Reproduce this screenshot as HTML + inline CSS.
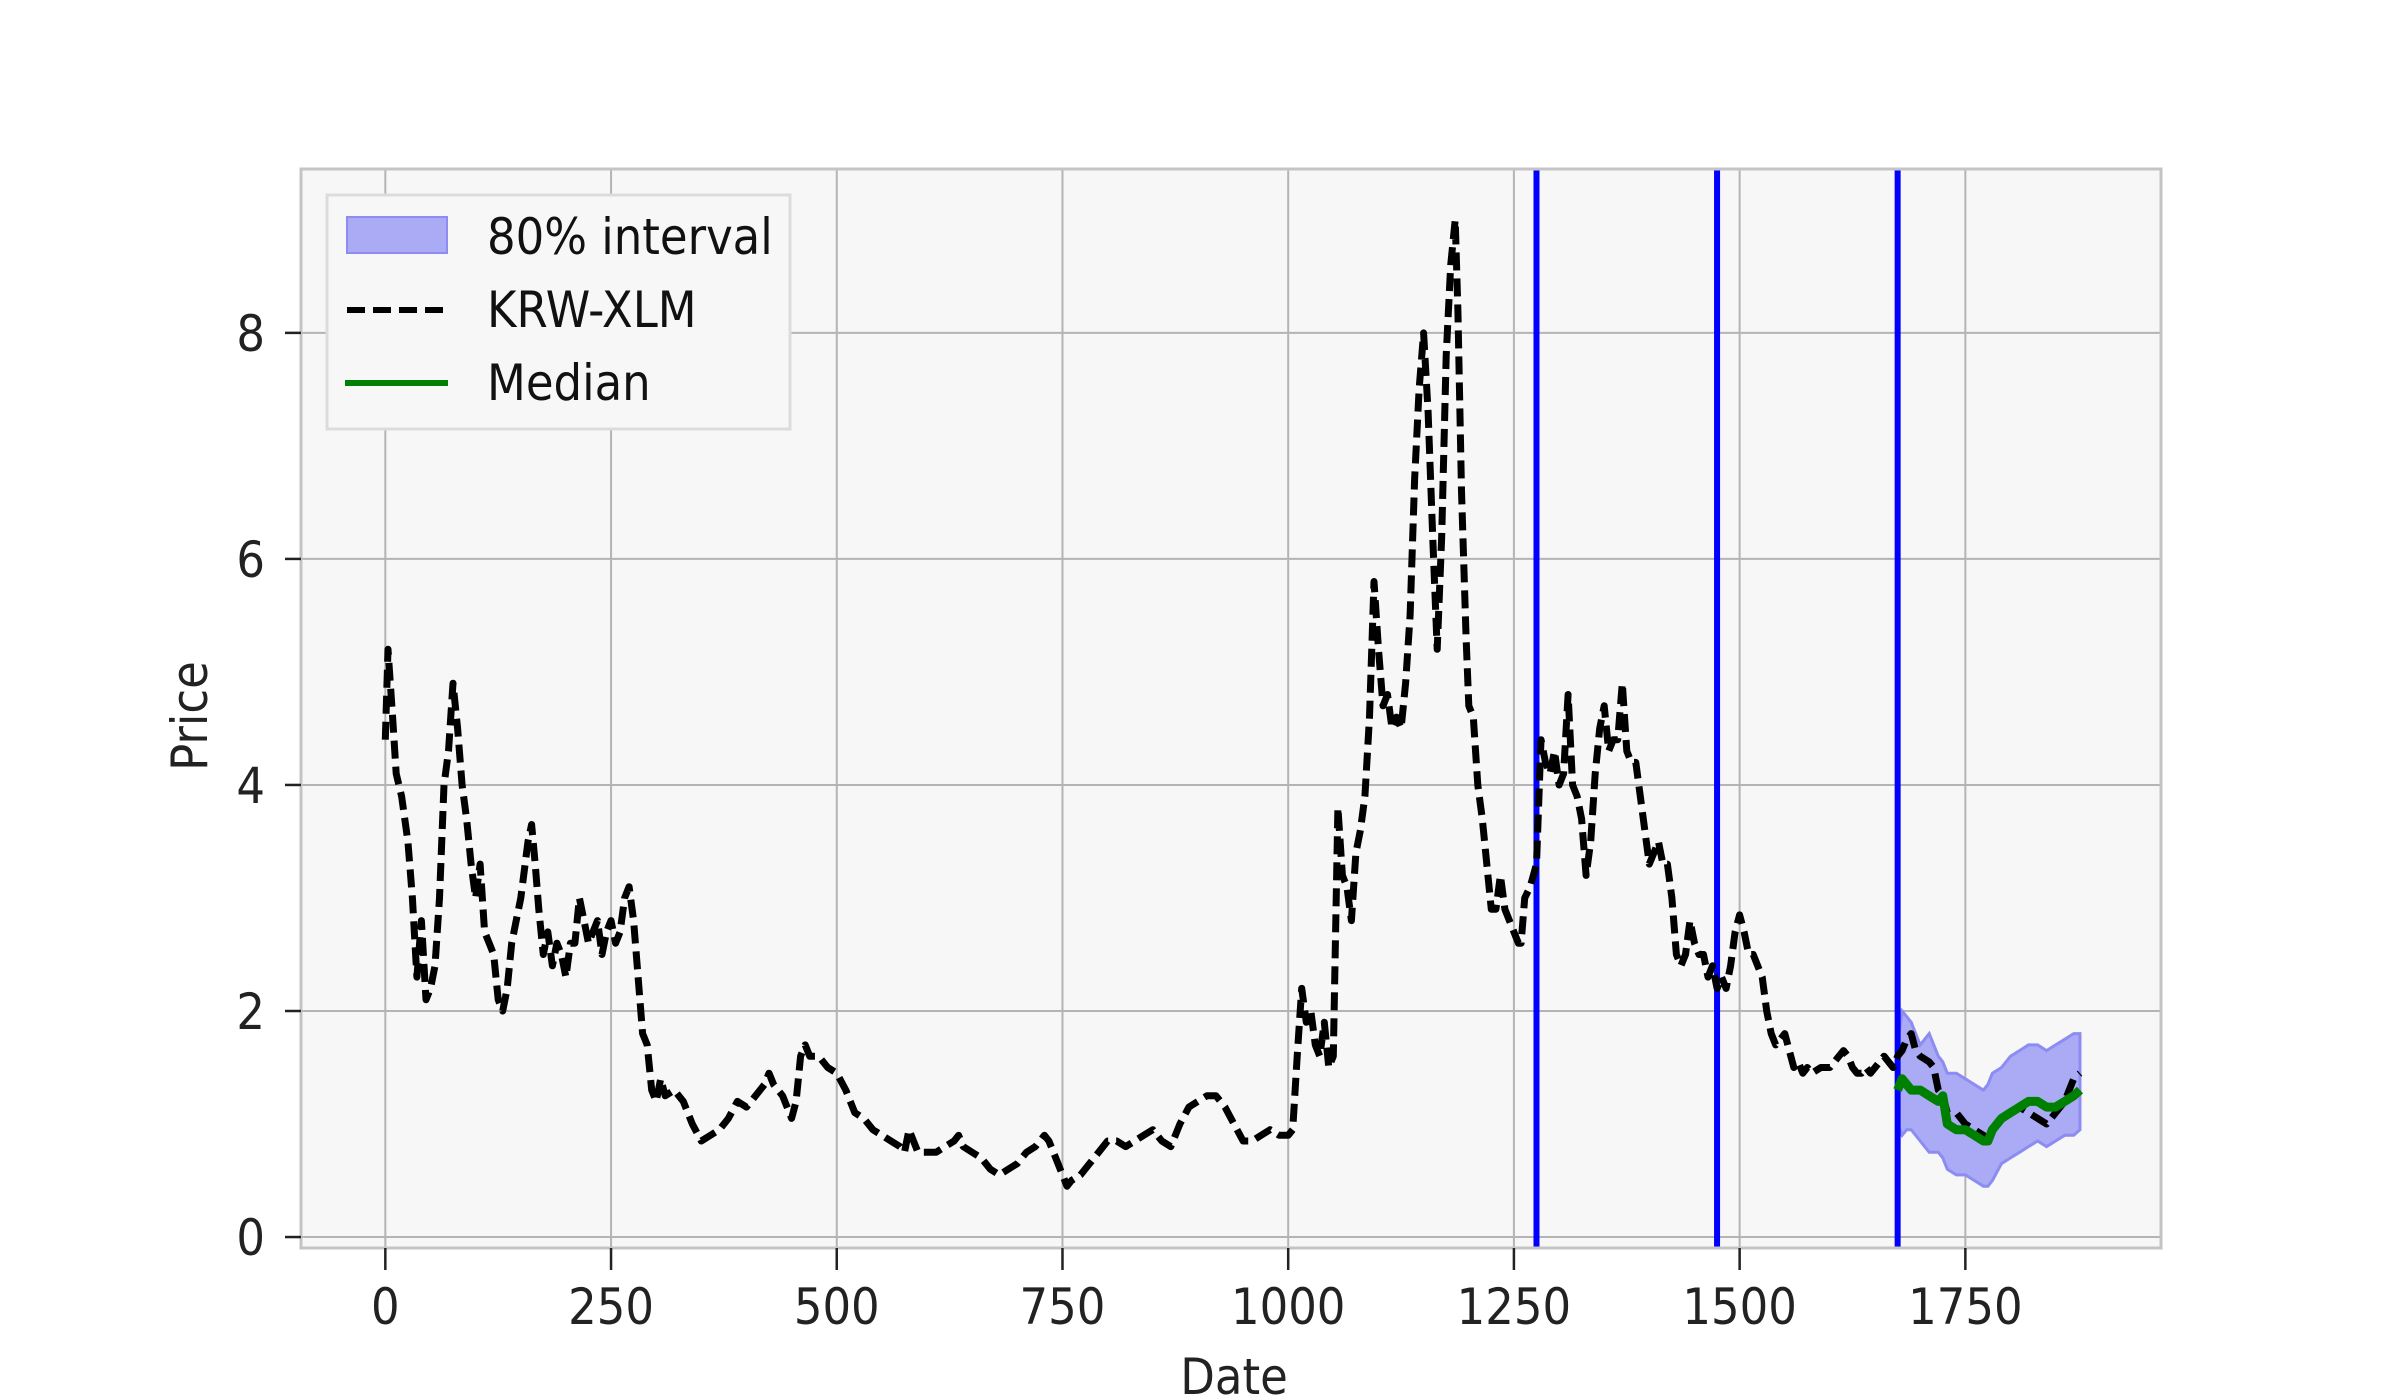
<!DOCTYPE html>
<html><head><meta charset="utf-8">
<style>
html,body{margin:0;padding:0;background:#fff;}
svg{display:block;font-family:"DejaVu Sans Condensed","Liberation Sans Narrow","Liberation Sans",sans-serif;}
</style></head>
<body>
<svg id="chart" width="2400" height="1400" viewBox="0 0 2400 1400" xmlns="http://www.w3.org/2000/svg">
  <rect x="301" y="169" width="1860" height="1079" fill="#f7f7f7"/>
  <g id="grid"></g>
  <g id="band"></g>
  <g id="vlines"></g>
  <g id="series"></g>
  <rect x="301" y="169" width="1860" height="1079" fill="none" stroke="#c4c4c4" stroke-width="3"/>
  <g id="ticks"></g>
  <text x="1234" y="1394" font-size="50" text-anchor="middle" fill="#222">Date</text>
  <text transform="translate(207,716) rotate(-90)" font-size="50" text-anchor="middle" fill="#222">Price</text>
  <g>
    <rect x="327" y="195" width="463" height="234" fill="#f7f7f7" stroke="#dcdcdc" stroke-width="3"/>
    <rect x="347" y="217" width="100" height="36" fill="#aaaaf5" stroke="#8c8cf2" stroke-width="2"/>
    <text x="487" y="254" font-size="50" fill="#111">80% interval</text>
    <line x1="347" y1="310" x2="448" y2="310" stroke="#000" stroke-width="6" stroke-dasharray="18 8"/>
    <text x="487" y="327" font-size="50" fill="#111">KRW-XLM</text>
    <line x1="345" y1="383" x2="448" y2="383" stroke="#008000" stroke-width="6"/>
    <text x="487" y="400" font-size="50" fill="#111">Median</text>
  </g>
</svg>
<script>
const priceDays = [0,3,8,12,18,25,30,35,40,45,50,55,60,65,70,75,80,85,90,95,100,105,110,115,120,125,130,135,140,145,150,158,162,166,170,175,180,185,190,195,200,205,210,215,220,225,230,235,240,245,250,255,260,265,270,275,280,285,290,295,300,305,310,320,330,340,350,360,370,380,390,400,410,420,425,430,440,450,455,460,465,470,480,490,500,510,520,530,540,550,560,570,575,580,590,600,610,620,630,635,640,650,660,670,680,690,700,710,720,730,735,740,750,755,760,770,780,790,800,810,820,830,840,850,860,870,880,890,900,910,920,930,940,950,960,970,980,990,1000,1005,1010,1015,1020,1025,1030,1035,1040,1045,1050,1055,1060,1065,1070,1075,1080,1085,1090,1095,1100,1105,1110,1115,1120,1125,1130,1135,1140,1145,1150,1155,1160,1165,1170,1175,1180,1185,1188,1192,1197,1200,1205,1210,1215,1220,1225,1230,1235,1240,1245,1250,1255,1258,1262,1268,1275,1280,1285,1290,1295,1300,1305,1310,1315,1320,1325,1330,1335,1340,1345,1350,1355,1360,1365,1370,1375,1380,1385,1390,1395,1400,1405,1410,1415,1420,1425,1430,1435,1440,1445,1450,1455,1460,1465,1470,1475,1480,1485,1490,1495,1500,1505,1510,1515,1520,1525,1530,1535,1540,1545,1550,1555,1560,1565,1570,1575,1580,1590,1600,1610,1615,1620,1625,1630,1635,1640,1645,1650,1660,1665,1670,1675,1680,1685,1690,1695,1700,1710,1715,1720,1725,1730,1740,1750,1760,1770,1775,1780,1790,1800,1810,1820,1830,1840,1850,1860,1865,1870,1877];
const priceValues = [4.4,5.2,4.6,4.1,3.9,3.5,3.0,2.3,2.8,2.1,2.2,2.4,3.0,4.0,4.3,4.9,4.5,4.0,3.7,3.3,3.0,3.3,2.7,2.6,2.5,2.1,2.0,2.2,2.6,2.8,3.0,3.5,3.65,3.3,2.9,2.5,2.7,2.4,2.6,2.5,2.3,2.6,2.6,3.0,2.8,2.6,2.7,2.8,2.5,2.7,2.8,2.6,2.7,3.0,3.1,2.8,2.3,1.8,1.7,1.3,1.2,1.4,1.25,1.3,1.2,1.0,0.85,0.9,0.95,1.05,1.2,1.15,1.25,1.35,1.45,1.35,1.25,1.05,1.2,1.6,1.7,1.6,1.6,1.5,1.45,1.3,1.1,1.05,0.95,0.9,0.85,0.8,0.75,0.95,0.75,0.75,0.75,0.8,0.85,0.9,0.8,0.75,0.7,0.6,0.55,0.6,0.65,0.75,0.8,0.9,0.85,0.75,0.55,0.45,0.5,0.55,0.65,0.75,0.85,0.85,0.8,0.85,0.9,0.95,0.85,0.8,1.0,1.15,1.2,1.25,1.25,1.15,1.0,0.85,0.85,0.9,0.95,0.9,0.9,0.95,1.6,2.2,1.9,2.0,1.7,1.6,1.9,1.5,1.6,3.8,3.2,3.1,2.8,3.4,3.6,3.9,4.6,5.8,5.2,4.7,4.8,4.5,4.6,4.5,4.9,5.5,6.7,7.5,8.0,7.3,6.2,5.2,6.2,7.8,8.6,9.0,8.2,6.6,5.3,4.7,4.6,4.0,3.7,3.3,2.9,2.9,3.2,2.9,2.8,2.7,2.6,2.6,3.0,3.1,3.3,4.4,4.2,4.1,4.3,4.0,4.1,4.8,4.0,3.9,3.7,3.2,3.5,4.1,4.5,4.7,4.3,4.4,4.4,4.9,4.3,4.2,4.2,3.9,3.6,3.3,3.4,3.5,3.3,3.3,3.0,2.5,2.4,2.5,2.8,2.6,2.5,2.5,2.3,2.4,2.2,2.3,2.2,2.4,2.7,2.85,2.7,2.5,2.5,2.4,2.3,2.0,1.8,1.7,1.75,1.8,1.65,1.5,1.55,1.45,1.5,1.45,1.5,1.5,1.6,1.65,1.6,1.5,1.45,1.45,1.5,1.45,1.5,1.6,1.55,1.5,1.6,1.65,1.75,1.8,1.65,1.6,1.55,1.5,1.3,1.25,1.1,1.1,1.0,0.95,0.9,0.85,0.95,1.05,1.1,1.15,1.1,1.05,1.0,1.1,1.2,1.3,1.4,1.45];
const fcDays = [1675,1680,1685,1690,1700,1710,1720,1725,1730,1740,1750,1760,1770,1775,1780,1790,1800,1810,1820,1830,1840,1850,1860,1870,1877];
const medianValues = [1.3,1.4,1.35,1.3,1.3,1.25,1.2,1.25,1.0,0.95,0.95,0.9,0.85,0.85,0.95,1.05,1.1,1.15,1.2,1.2,1.15,1.15,1.2,1.25,1.3];
const upperValues = [1.7,2.0,1.95,1.9,1.7,1.8,1.6,1.55,1.45,1.45,1.4,1.35,1.3,1.35,1.45,1.5,1.6,1.65,1.7,1.7,1.65,1.7,1.75,1.8,1.8];
const lowerValues = [1.0,0.9,0.95,0.95,0.85,0.75,0.75,0.7,0.6,0.55,0.55,0.5,0.45,0.45,0.5,0.65,0.7,0.75,0.8,0.85,0.8,0.85,0.9,0.9,0.95];
const splitDays = [1275,1475,1675];
const xTicks = [0,250,500,750,1000,1250,1500,1750];
const yTicks = [0,2,4,6,8];

const NS = "http://www.w3.org/2000/svg";
const L=301,R=2161,T=169,B=1248;
const xMin=-93.4, xMax=1966.7, yMin=-0.097, yMax=9.45;
const xs = d => L + (d - xMin) / (xMax - xMin) * (R - L);
const ys = v => B - (v - yMin) / (yMax - yMin) * (B - T);
function mk(tag, attrs, parent){const e=document.createElementNS(NS,tag);for(const k in attrs)e.setAttribute(k,attrs[k]);parent.appendChild(e);return e;}

const grid=document.getElementById('grid'), ticks=document.getElementById('ticks');
xTicks.forEach(t=>{
  const g=mk('line',{x1:xs(t),x2:xs(t),y1:T,y2:B,stroke:'#b4b4b4','stroke-width':2},grid);
  
  
  const tk=mk('line',{x1:xs(t),x2:xs(t),y1:B,y2:B+22,stroke:'#222','stroke-width':2.5},ticks);
  
  
  const tx=mk('text',{x:xs(t),y:1324,'font-size':50,'text-anchor':'middle',fill:'#222'},ticks);
  tx.textContent=t;
  
  
});
yTicks.forEach(t=>{
  const g=mk('line',{x1:L,x2:R,y1:ys(t),y2:ys(t),stroke:'#b4b4b4','stroke-width':2},grid);
  
  
  const tk=mk('line',{x1:L-16,x2:L,y1:ys(t),y2:ys(t),stroke:'#222','stroke-width':2.5},ticks);
  
  
  const tx=mk('text',{x:L-36,y:ys(t)+18,'font-size':50,'text-anchor':'end',fill:'#222'},ticks);
  tx.textContent=t;
  
  
});

let bp='';
fcDays.forEach((d,i)=>{bp+=(i?'L':'M')+xs(d).toFixed(1)+','+ys(upperValues[i]).toFixed(1);});
for(let i=fcDays.length-1;i>=0;i--){bp+='L'+xs(fcDays[i]).toFixed(1)+','+ys(lowerValues[i]).toFixed(1);}
const band=mk('path',{d:bp+'Z',fill:'#aaaaf5',stroke:'#8c8cf2','stroke-width':3},document.getElementById('band'));



splitDays.forEach(d=>{
  const v=mk('line',{x1:xs(d),x2:xs(d),y1:T,y2:B,stroke:'#0000ff','stroke-width':6},document.getElementById('vlines'));
  
  
});

const ser=document.getElementById('series');
let pp='';
priceDays.forEach((d,i)=>{pp+=(i?'L':'M')+xs(d).toFixed(1)+','+ys(priceValues[i]).toFixed(1);});
const pl=mk('path',{d:pp,fill:'none',stroke:'#000','stroke-width':7,'stroke-dasharray':'18 8','stroke-linejoin':'round'},ser);


let mp='';
fcDays.forEach((d,i)=>{mp+=(i?'L':'M')+xs(d).toFixed(1)+','+ys(medianValues[i]).toFixed(1);});
const ml=mk('path',{d:mp,fill:'none',stroke:'#008000','stroke-width':9,'stroke-linejoin':'round'},ser);


</script>
</body></html>
